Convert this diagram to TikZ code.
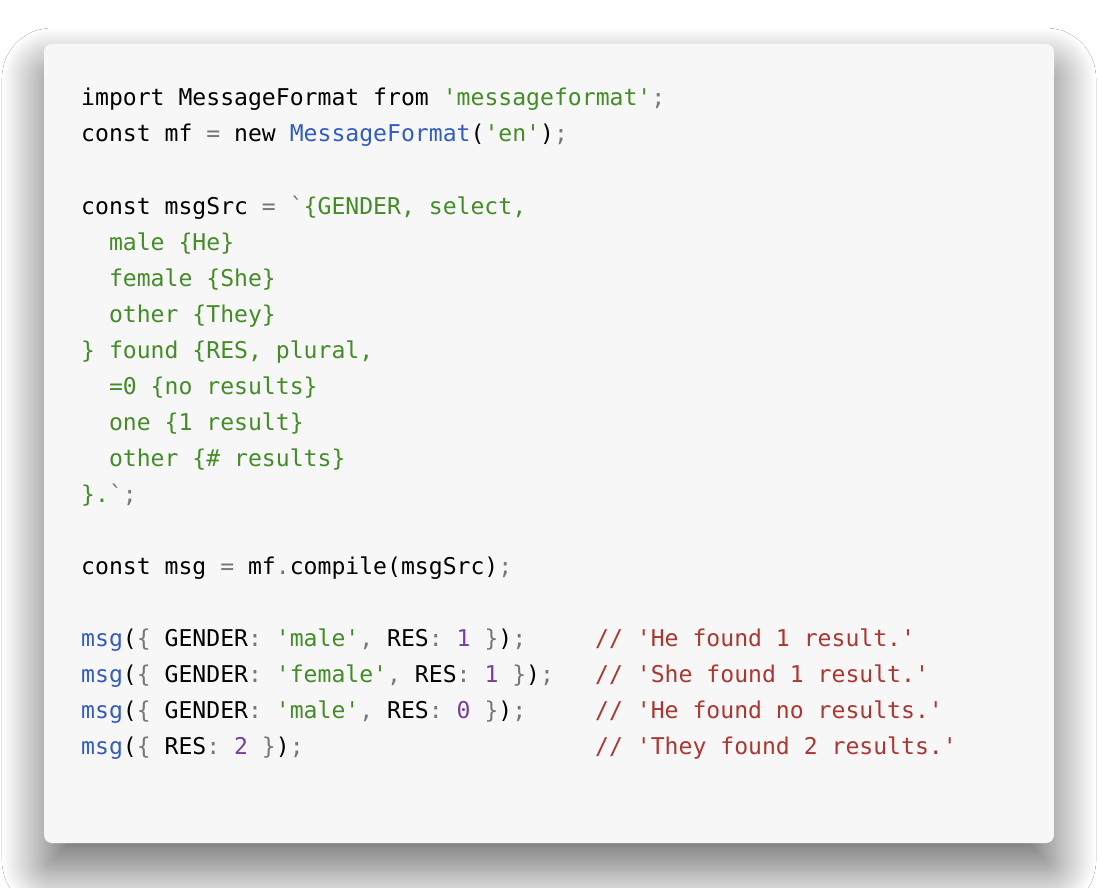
\documentclass[tikz,border=0pt]{standalone}
\usepackage{fontspec}
\setmonofont{DejaVu Sans Mono}
\usetikzlibrary{shadows.blur}
\definecolor{cardbg}{HTML}{F7F7F7}
\definecolor{strgreen}{HTML}{448C27}
\definecolor{fnblue}{HTML}{325CC0}
\definecolor{numpurple}{HTML}{7A3E9D}
\definecolor{cmtred}{HTML}{AA3731}
\definecolor{pungray}{HTML}{777777}
\newcommand{\cstr}[1]{\textcolor{strgreen}{#1}}
\newcommand{\cfn}[1]{\textcolor{fnblue}{#1}}
\newcommand{\cnum}[1]{\textcolor{numpurple}{#1}}
\newcommand{\cpun}[1]{\textcolor{pungray}{#1}}
\tikzset{
  codeline/.style={anchor=base west, inner sep=0pt, text=black,
    font=\ttfamily\fontsize{23.1}{36}\selectfont\frenchspacing},
  comment/.style={codeline, text=cmtred}
}

\begin{document}
\begin{tikzpicture}[x=1pt,y=-1pt]
    \useasboundingbox (0,0) rectangle (1098,888);
    \fill[white] (0,0) rectangle (1098,888);
    % card with shadow
    \fill[cardbg, rounded corners=8pt,
      blur shadow={shadow xshift=0pt, shadow yshift=-26pt,
        shadow blur radius=42pt, shadow blur steps=60, shadow opacity=60}]
      (44,44) rectangle (1054,843);
    % code
    \node[codeline] (l1) at (81,106) {import MessageFormat from \cstr{'messageformat'}\cpun{;}};
    \node[codeline] (l2) at (81,142) {const mf \cpun{=} new \cfn{MessageFormat}(\cstr{'en'})\cpun{;}};
    \node[codeline] (l4) at (81,214) {const msgSrc \cpun{=} \cpun{`}\cstr{\{GENDER, select,}};
    \node[codeline] (l5) at (81,250) {\ \ \cstr{male \{He\}}};
    \node[codeline] (l6) at (81,286) {\ \ \cstr{female \{She\}}};
    \node[codeline] (l7) at (81,322) {\ \ \cstr{other \{They\}}};
    \node[codeline] (l8) at (81,358) {\cstr{\} found \{RES, plural,}};
    \node[codeline] (l9) at (81,394) {\ \ \cstr{=0 \{no results\}}};
    \node[codeline] (l10) at (81,430) {\ \ \cstr{one \{1 result\}}};
    \node[codeline] (l11) at (81,466) {\ \ \cstr{other \{\# results\}}};
    \node[codeline] (l12) at (81,502) {\cstr{\}.}\cpun{`;}};
    \node[codeline] (l14) at (81,574) {const msg \cpun{=} mf\cpun{.}compile(msgSrc)\cpun{;}};
    \node[codeline] (l16) at (81,646) {\cfn{msg}(\cpun{\{} GENDER\cpun{:} \cstr{'male'}\cpun{,} RES\cpun{:} \cnum{1} \cpun{\}})\cpun{;}};
    \node[codeline] (l17) at (81,682) {\cfn{msg}(\cpun{\{} GENDER\cpun{:} \cstr{'female'}\cpun{,} RES\cpun{:} \cnum{1} \cpun{\}})\cpun{;}};
    \node[codeline] (l18) at (81,718) {\cfn{msg}(\cpun{\{} GENDER\cpun{:} \cstr{'male'}\cpun{,} RES\cpun{:} \cnum{0} \cpun{\}})\cpun{;}};
    \node[codeline] (l19) at (81,754) {\cfn{msg}(\cpun{\{} RES\cpun{:} \cnum{2} \cpun{\}})\cpun{;}};
    % comments
    \node[comment] (c16) at (595,646) {// 'He found 1 result.'};
    \node[comment] (c17) at (595,682) {// 'She found 1 result.'};
    \node[comment] (c18) at (595,718) {// 'He found no results.'};
    \node[comment] (c19) at (595,754) {// 'They found 2 results.'};
\end{tikzpicture}
\end{document}
